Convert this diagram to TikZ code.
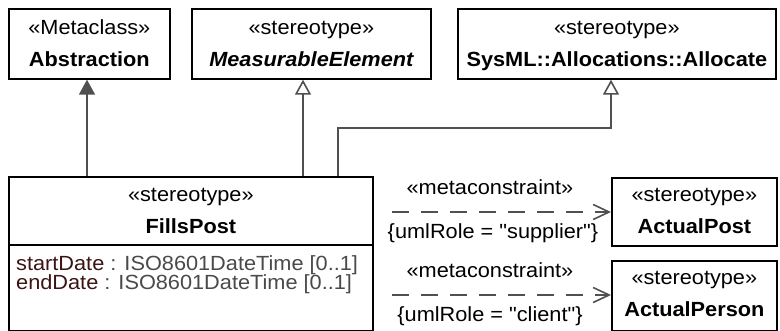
\documentclass[tikz,border=0pt]{standalone}
\usepackage{fontspec}
\setmainfont{Liberation Sans}[FakeStretch=1.06, Ligatures=TeXOff]
\usetikzlibrary{arrows.meta,calc}
\definecolor{linegray}{HTML}{505050}
\definecolor{attrname}{HTML}{3C1414}
\definecolor{typegray}{HTML}{4A4A4A}
\begin{document}
\begin{tikzpicture}[x=1pt,y=-1pt,
  every node/.style={font=\fontsize{20.5}{22}\selectfont},
  umlbox/.style={draw=black, line width=1.7pt, inner sep=0pt, anchor=north west, fill=white},
  txt/.style={anchor=base, inner sep=0pt},
  conn/.style={draw=linegray, line width=1.6pt},
  genfill/.style={conn, -{Triangle[length=15pt,width=16pt,fill=linegray]}},
  genopen/.style={conn, -{Triangle[open,length=15pt,width=16pt,fill=white]}},
  dep/.style={conn, dash pattern=on 17pt off 12pt, -{Straight Barb[length=16pt,width=15pt]}}
]
\useasboundingbox (0,0) rectangle (780,331);

% boxes
\node[umlbox, minimum width=161pt, minimum height=70pt] (abs) at (8,8) {};
\node[umlbox, minimum width=239pt, minimum height=70pt] (meas) at (191,8) {};
\node[umlbox, minimum width=318pt, minimum height=70pt] (alloc) at (457,8) {};
\node[umlbox, minimum width=364pt, minimum height=154pt] (fills) at (8,176) {};
\node[umlbox, minimum width=165pt, minimum height=68pt] (post) at (611,177) {};
\node[umlbox, minimum width=165pt, minimum height=70pt] (person) at (611,260) {};

% texts in boxes
\node[txt] (absS) at ($(abs.north)+(0,27)$) {«Metaclass»};
\node[txt] (absN) at ($(abs.north)+(0,59)$) {\bfseries Abstraction};
\node[txt] (measS) at ($(meas.north)+(0,27)$) {«stereotype»};
\node[txt] (measN) at ($(meas.north)+(0,59)$) {\bfseries\itshape MeasurableElement};
\node[txt] (allocS) at ($(alloc.north)+(0,27)$) {«stereotype»};
\node[txt] (allocN) at ($(alloc.north)+(0,59)$) {\bfseries SysML::Allocations::Allocate};
\node[txt] (fillsS) at ($(fills.north)+(0,26)$) {«stereotype»};
\node[txt] (fillsN) at ($(fills.north)+(0,58)$) {\bfseries FillsPost};
\draw[line width=1.5pt] ($(fills.north west)+(0,69)$) -- ($(fills.north east)+(0,69)$);
\node[txt, anchor=base west] (attr1) at ($(fills.north west)+(8,95)$) {\textcolor{attrname}{startDate} \textcolor{typegray}{: ISO8601DateTime [0..1]}};
\node[txt, anchor=base west] (attr2) at ($(fills.north west)+(8,114)$) {\textcolor{attrname}{endDate} \textcolor{typegray}{: ISO8601DateTime [0..1]}};
\node[txt] (postS) at ($(post.north)+(0,25)$) {«stereotype»};
\node[txt] (postN) at ($(post.north)+(0,57)$) {\bfseries ActualPost};
\node[txt] (personS) at ($(person.north)+(0,25)$) {«stereotype»};
\node[txt] (personN) at ($(person.north)+(0,57)$) {\bfseries ActualPerson};

% generalizations
\coordinate (g1) at (87,176);
\draw[genfill] (g1) -- (g1 |- abs.south);
\coordinate (g2) at (303,176);
\draw[genopen] (g2) -- (g2 |- meas.south);
\coordinate (g3) at (338,176);
\coordinate (g4) at (611,128);
\draw[genopen] (g3) -- (g3 |- g4) -- (g4) -- (g4 |- alloc.south);

% metaconstraints
\coordinate (d1) at (392,212);
\draw[dep] (d1) -- (d1 -| post.west);
\node[txt] (mc1) at (490,195) {«metaconstraint»};
\node[txt] (role1) at (493,239) {\{umlRole = "supplier"\}};
\coordinate (d2) at (392,295);
\draw[dep] (d2) -- (d2 -| person.west);
\node[txt] (mc2) at (490,278) {«metaconstraint»};
\node[txt] (role2) at (490,322) {\{umlRole = "client"\}};
\end{tikzpicture}
\end{document}
